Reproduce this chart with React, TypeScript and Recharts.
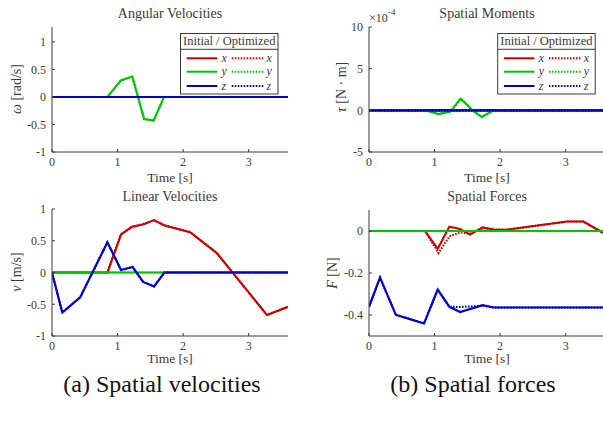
import React from 'react';
import { LineChart, Line, XAxis, YAxis } from 'recharts';

// ---------- data ----------
const timeTicks = [0, 1, 2, 3];

// Angular velocities [rad/s]
const angX_t = [0, 3.6];
const angX_v = [0, 0];
const angY_t = [0, 0.845, 1.05, 1.225, 1.405, 1.55, 1.71, 3.6];
const angY_v = [0, 0, 0.3, 0.37, -0.4, -0.43, 0, 0];
const angZ_t = [0, 3.6];
const angZ_v = [0, 0];
const angTicks = [-1, -0.5, 0, 0.5, 1];

// Spatial moments [N·m] in units of 1e-4
const momX_t = [0, 3.6];
const momX_v = [0, 0];
const momY_t = [0, 0.86, 1.06, 1.24, 1.4, 1.58, 1.72, 1.9, 3.6];
const momY_v = [0, 0, -0.45, -0.15, 1.4, 0, -0.8, 0, 0];
const momZ_t = [0, 3.6];
const momZ_v = [0, 0];
const momTicks = [-5, 0, 5, 10];

// Linear velocities [m/s]
const linX_t = [0, 0.845, 1.053, 1.216, 1.39, 1.557, 1.715, 2.107, 2.51, 3.28, 3.6];
const linX_v = [0, 0, 0.6, 0.72, 0.757, 0.825, 0.74, 0.635, 0.31, -0.67, -0.54];
const linXopt_v = [0, 0, 0.6, 0.71, 0.765, 0.82, 0.745, 0.635, 0.31, -0.67, -0.54];
const linY_t = [0, 3.6];
const linY_v = [0, 0];
const linZ_t = [0, 0.157, 0.43, 0.845, 1.053, 1.23, 1.39, 1.557, 1.715, 3.6];
const linZ_v = [0, -0.63, -0.39, 0.476, 0.04, 0.086, -0.148, -0.22, 0, 0];
const linTicks = [-1, -0.5, 0, 0.5, 1];

// Spatial forces [N]
const forX_t = [0, 0.855, 1.048, 1.226, 1.39, 1.54, 1.735, 1.9, 2.1, 3.02, 3.27, 3.6];
const forX_v = [0, 0, -0.085, 0.02, 0.01, -0.017, 0.017, 0.007, 0.006, 0.045, 0.045, -0.014];
const forXopt_t = [0, 0.855, 1.06, 1.226, 1.39, 1.54, 1.735, 1.9, 2.1, 3.02, 3.27, 3.6];
const forXopt_v = [0, 0, -0.105, -0.025, -0.007, -0.012, 0.013, 0.007, 0.006, 0.045, 0.045, -0.014];
const forY_t = [0, 3.6];
const forY_v = [0, 0];
const forZ_t = [0, 0.168, 0.41, 0.84, 1.048, 1.226, 1.39, 1.735, 1.9, 3.6];
const forZ_v = [-0.361, -0.222, -0.399, -0.44, -0.279, -0.361, -0.386, -0.353, -0.364, -0.364];
const forZopt_v = [-0.361, -0.222, -0.399, -0.44, -0.279, -0.361, -0.362, -0.356, -0.364, -0.364];
const forTicks = [-0.4, -0.2, 0];

// ---------- style ----------
const RED = '#d00000';
const GREEN = '#00c800';
const BLUE = '#0000d0';
const INK = '#3a3a3a';
const SERIF = '"Liberation Serif", "DejaVu Serif", serif';
const XH = 20;

type S = { t: number[]; v: number[]; color: string; dotted?: boolean };
const pts = (t: number[], v: number[]) => t.map((x, i) => ({ t: x, v: v[i] }));

function Panel(props: {
  left: number; top: number; width: number; height: number;
  plot: { x0: number; x1: number; y0: number; y1: number };
  yDomain: [number, number]; yTicks: number[]; series: S[];
}) {
  const { left, top, width, height, plot, yDomain, yTicks, series } = props;
  const margin = {
    top: plot.y0 - top,
    right: left + width - plot.x1,
    bottom: top + height - plot.y1 - XH,
    left: 0,
  };
  const tickStyle = { fill: INK, fontSize: 12, style: { fontFamily: SERIF } };
  return (
    <div style={{ position: 'absolute', left, top, width, height, fontFamily: SERIF }}>
      <LineChart width={width} height={height} margin={margin} style={{ fontFamily: SERIF }}>
        <XAxis
          type="number" dataKey="t" domain={[0, 3.6]} ticks={timeTicks} height={XH}
          tickSize={-3} tickMargin={8} interval={0} allowDataOverflow
          axisLine={{ stroke: INK, strokeWidth: 1 }} tickLine={{ stroke: INK }} tick={tickStyle}
        />
        <YAxis
          type="number" dataKey="v" domain={yDomain} ticks={yTicks} width={plot.x0 - left}
          tickSize={-3} tickMargin={9} interval={0} allowDataOverflow
          axisLine={{ stroke: INK, strokeWidth: 1 }} tickLine={{ stroke: INK }} tick={tickStyle}
        />
        {series.map((s, i) => (
          <Line
            key={i} data={pts(s.t, s.v)} dataKey="v" type="linear" stroke={s.color}
            strokeWidth={2.1} strokeDasharray={s.dotted ? '1.6 1.4' : undefined}
            dot={false} activeDot={false} isAnimationActive={false}
          />
        ))}
      </LineChart>
    </div>
  );
}

function LegendBox({ x }: { x: number }) {
  const y = 33.5;
  const rows = [
    { c: RED, l: 'x' },
    { c: GREEN, l: 'y' },
    { c: BLUE, l: 'z' },
  ];
  return (
    <g>
      <rect x={x} y={y} width={97.5} height={60.5} fill="#fff" stroke={INK} strokeWidth={1} />
      <line x1={x} x2={x + 97.5} y1={49.3} y2={49.3} stroke={INK} strokeWidth={1} />
      <text x={x + 48.75} y={45} textAnchor="middle" fontSize={12.5} fill={INK}>
        Initial / Optimized
      </text>
      {rows.map((r, i) => {
        const ry = [58.3, 71.7, 86][i];
        return (
          <g key={i}>
            <line x1={x + 6.2} x2={x + 36.8} y1={ry} y2={ry} stroke={r.c} strokeWidth={2} />
            <text x={x + 41} y={ry + 3.5} fontSize={12} fontStyle="italic" fill={INK}>{r.l}</text>
            <line x1={x + 51.2} x2={x + 82.8} y1={ry} y2={ry} stroke={r.c} strokeWidth={2} strokeDasharray="1.6 1.4" />
            <text x={x + 86} y={ry + 3.5} fontSize={12} fontStyle="italic" fill={INK}>{r.l}</text>
          </g>
        );
      })}
    </g>
  );
}

export default function App() {
  const topPlotL = { x0: 52, x1: 288, y0: 27, y1: 152 };
  const topPlotR = { x0: 369, x1: 605, y0: 27, y1: 152 };
  const botPlotL = { x0: 52, x1: 288, y0: 209, y1: 336 };
  const botPlotR = { x0: 369, x1: 605, y0: 210, y1: 336 };

  return (
    <div style={{ position: 'absolute', left: 0, top: 0, width: 603, height: 426, overflow: 'hidden', background: '#fff', fontFamily: SERIF }}>
      <Panel
        left={0} top={0} width={300} height={175} plot={topPlotL}
        yDomain={[-1, 1.27]} yTicks={angTicks}
        series={[
          { t: angX_t, v: angX_v, color: RED },
          { t: angX_t, v: angX_v, color: RED, dotted: true },
          { t: angY_t, v: angY_v, color: GREEN },
          { t: angY_t, v: angY_v, color: GREEN, dotted: true },
          { t: angZ_t, v: angZ_v, color: BLUE },
          { t: angZ_t, v: angZ_v, color: BLUE, dotted: true },
        ]}
      />
      <Panel
        left={300} top={0} width={305} height={175} plot={topPlotR}
        yDomain={[-5, 10]} yTicks={momTicks}
        series={[
          { t: momX_t, v: momX_v, color: RED },
          { t: momX_t, v: momX_v, color: RED, dotted: true },
          { t: momY_t, v: momY_v, color: GREEN },
          { t: momY_t, v: momY_v, color: GREEN, dotted: true },
          { t: momZ_t, v: momZ_v, color: BLUE },
          { t: momZ_t, v: momZ_v, color: BLUE, dotted: true },
        ]}
      />
      <Panel
        left={0} top={185} width={300} height={175} plot={botPlotL}
        yDomain={[-1, 1]} yTicks={linTicks}
        series={[
          { t: linX_t, v: linX_v, color: RED },
          { t: linX_t, v: linXopt_v, color: RED, dotted: true },
          { t: linY_t, v: linY_v, color: GREEN },
          { t: linY_t, v: linY_v, color: GREEN, dotted: true },
          { t: linZ_t, v: linZ_v, color: BLUE },
          { t: linZ_t, v: linZ_v, color: BLUE, dotted: true },
        ]}
      />
      <Panel
        left={300} top={185} width={305} height={175} plot={botPlotR}
        yDomain={[-0.5, 0.1]} yTicks={forTicks}
        series={[
          { t: forX_t, v: forX_v, color: RED },
          { t: forXopt_t, v: forXopt_v, color: RED, dotted: true },
          { t: forY_t, v: forY_v, color: GREEN },
          { t: forY_t, v: forY_v, color: GREEN, dotted: true },
          { t: forZ_t, v: forZ_v, color: BLUE },
          { t: forZ_t, v: forZopt_v, color: BLUE, dotted: true },
        ]}
      />
      <svg width={603} height={426} style={{ position: 'absolute', left: 0, top: 0, pointerEvents: 'none', fontFamily: SERIF }}>
        <g fill={INK}>
          <text x={170} y={18} textAnchor="middle" fontSize={14}>Angular Velocities</text>
          <text x={487} y={18} textAnchor="middle" fontSize={14}>Spatial Moments</text>
          <text x={170} y={201} textAnchor="middle" fontSize={14}>Linear Velocities</text>
          <text x={487} y={201} textAnchor="middle" fontSize={14}>Spatial Forces</text>

          <text x={170} y={182} textAnchor="middle" fontSize={13.5}>Time [s]</text>
          <text x={487} y={182} textAnchor="middle" fontSize={13.5}>Time [s]</text>
          <text x={170} y={363} textAnchor="middle" fontSize={13.5}>Time [s]</text>
          <text x={487} y={363} textAnchor="middle" fontSize={13.5}>Time [s]</text>

          <text transform="translate(21,89) rotate(-90)" textAnchor="middle" fontSize={14}>
            <tspan fontStyle="italic">ω</tspan> [rad/s]
          </text>
          <text transform="translate(346,87) rotate(-90)" textAnchor="middle" fontSize={14}>
            <tspan fontStyle="italic">τ</tspan> [N · m]
          </text>
          <text transform="translate(21,272) rotate(-90)" textAnchor="middle" fontSize={14}>
            <tspan fontStyle="italic">v</tspan> [m/s]
          </text>
          <text transform="translate(337,273) rotate(-90)" textAnchor="middle" fontSize={14}>
            <tspan fontStyle="italic">F</tspan> [N]
          </text>

          <text x={369} y={22} fontSize={12}>×10</text>
          <text x={388} y={15} fontSize={9}>-4</text>

          <text x={162} y={392} textAnchor="middle" fontSize={24} fill="#111">(a) Spatial velocities</text>
          <text x={473} y={392} textAnchor="middle" fontSize={24} fill="#111">(b) Spatial forces</text>
        </g>
        <LegendBox x={180.5} />
        <LegendBox x={497.7} />
      </svg>
    </div>
  );
}
